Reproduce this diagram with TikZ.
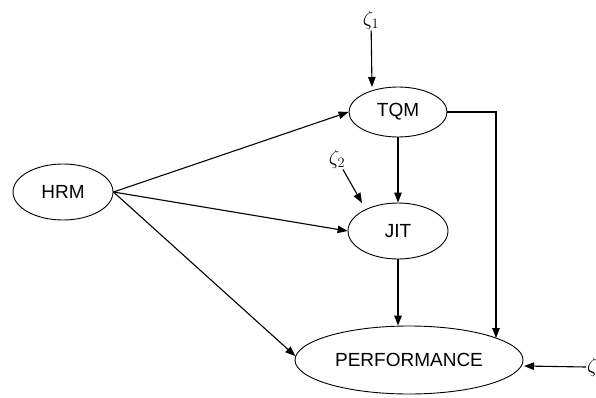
\documentclass[tikz,border=0pt]{standalone}
\usepackage{amsmath}
\usepackage{fontspec}
\setmainfont{Liberation Sans}
\usetikzlibrary{positioning,shapes.geometric,arrows.meta}

\begin{document}
\begin{tikzpicture}
[x=1pt, y=-1pt,
latent-a/.style={ellipse, draw, line width=0.9pt, inner sep=0pt, font=\fontsize{19}{22}\selectfont},
error-a/.style={inner sep=1pt, font=\fontsize{21}{24}\selectfont},
path-a/.style={line width=1.1pt, -{Triangle[length=10pt,width=7.5pt]}}
]
\useasboundingbox (0,0) rectangle (596,398);
\node (hrm)     [latent-a, minimum width=100pt, minimum height=56pt] at (63,192)  {HRM};
\node (tqm)     [latent-a, minimum width=98pt,  minimum height=50pt] at (398,112) {TQM};
\node (jit)     [latent-a, minimum width=100pt, minimum height=56pt] at (398,231) {JIT};
\node (perf)    [latent-a, minimum width=228pt, minimum height=68pt] at (409,360) {PERFORMANCE};
\node (zeta-1)  [error-a]                                            at (371,20)  {$\zeta_1$};
\node (zeta-2)  [error-a]                                            at (337,159) {$\zeta_2$};
\node (zeta-3)  [error-a, anchor=west]                               at (586,367) {$\zeta_3$};
\coordinate (tqm-in)  at (372,87);
\coordinate (jit-in)  at (362,203);
\coordinate (perf-in) at (496,338);
\coordinate (perf-r)  at (524,366);
\draw [path-a] (zeta-1) -- (tqm-in);
\draw [path-a] (zeta-2) -- (jit-in);
\draw [path-a] (zeta-3.west) -- (perf-r);
\draw [path-a] (hrm.east) -- (tqm.west);
\draw [path-a] (hrm.east) -- (jit.west);
\draw [path-a] (hrm.east) -- (perf.178);
\draw [path-a] (tqm.south) -- (jit.north);
\draw [path-a] (jit.south) -- (jit.south |- perf.north);
\draw [path-a] (tqm.east) -| (perf-in);
\end{tikzpicture}
\end{document}
